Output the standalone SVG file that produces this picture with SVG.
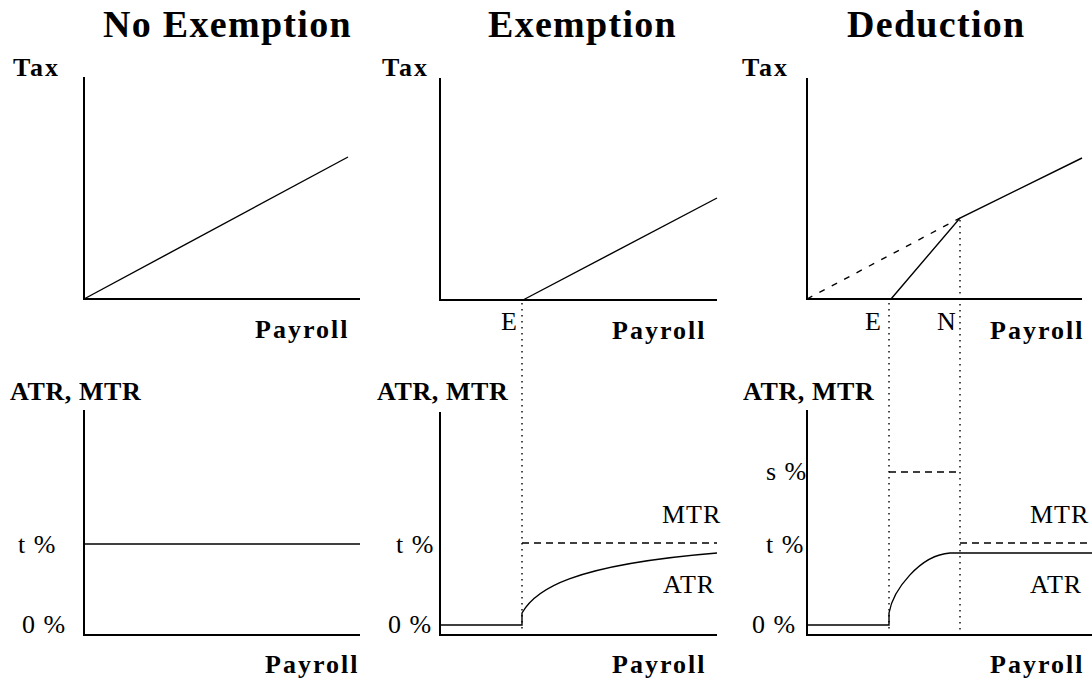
<svg xmlns="http://www.w3.org/2000/svg" width="1092" height="681" viewBox="0 0 1092 681">
<style>
.title{font-family:"Liberation Serif","Times New Roman",serif;font-weight:bold;font-size:38px;letter-spacing:1.3px;fill:#000}
.lab{font-family:"Liberation Serif","Times New Roman",serif;font-weight:bold;font-size:26px;letter-spacing:2px;fill:#000}
.lab2{font-family:"Liberation Serif","Times New Roman",serif;font-weight:bold;font-size:26px;letter-spacing:0.6px;fill:#000}
.reg{font-family:"Liberation Serif","Times New Roman",serif;font-size:26px;letter-spacing:1px;fill:#000}
.axis{stroke:#000;stroke-width:2;fill:none}
.line{stroke:#000;stroke-width:1.4;fill:none}
.dash{stroke:#000;stroke-width:1.4;fill:none;stroke-dasharray:7 5}
.dash2{stroke:#000;stroke-width:1.4;fill:none;stroke-dasharray:6 8}
.dot{stroke:#000;stroke-width:1.4;fill:none;stroke-dasharray:1.5 4.5}
</style>
<rect width="1092" height="681" fill="#fff"/>
<g id="titles">
<text class="title" x="103" y="37">No Exemption</text>
<text class="title" x="488" y="37">Exemption</text>
<text class="title" x="847" y="37">Deduction</text>
</g>
<g id="panel-no-exemption-tax">
<text class="lab" x="13" y="76">Tax</text>
<path class="axis" d="M84,77 V299 H360"/>
<path class="line" d="M84,299 L348,157"/>
<text class="lab" x="255" y="338">Payroll</text>
</g>
<g id="panel-exemption-tax">
<text class="lab" x="382" y="76">Tax</text>
<path class="axis" d="M440,78 V300 H717"/>
<path class="line" d="M523,300 L717,198"/>
<text class="reg" x="501" y="330">E</text>
<text class="lab" x="612" y="339">Payroll</text>
</g>
<g id="panel-deduction-tax">
<text class="lab" x="742" y="76">Tax</text>
<path class="axis" d="M807,78 V299 H1082"/>
<path class="dash2" d="M807,299 L960,218"/>
<path class="line" d="M891,299 L960,218 L1082,158"/>
<text class="reg" x="865" y="330">E</text>
<text class="reg" x="937" y="330">N</text>
<text class="lab" x="990" y="339">Payroll</text>
</g>
<g id="panel-no-exemption-rate">
<text class="lab2" x="10" y="400">ATR, MTR</text>
<path class="axis" d="M84,410 V635 H360"/>
<path class="line" d="M84,544 H360"/>
<text class="reg" x="18" y="553">t %</text>
<text class="reg" x="22" y="633">0 %</text>
<text class="lab" x="265" y="673">Payroll</text>
</g>
<g id="panel-exemption-rate">
<text class="lab2" x="377" y="400">ATR, MTR</text>
<path class="axis" d="M440,412 V635 H717"/>
<path class="line" d="M440,625 H522 V613 C535,590 570,565 717,553"/>
<path class="dash" d="M522,543 H717"/>
<text class="reg" x="396" y="553">t %</text>
<text class="reg" x="388" y="633">0 %</text>
<text class="reg" x="662" y="523">MTR</text>
<text class="reg" x="663" y="593">ATR</text>
<text class="lab" x="612" y="673">Payroll</text>
</g>
<g id="panel-deduction-rate">
<text class="lab2" x="743" y="400">ATR, MTR</text>
<path class="axis" d="M807,410 V635 H1092"/>
<path class="line" d="M807,625 H889 V613 C893,590 920,555 950,553 H1092"/>
<path class="dash" d="M889,472 H960"/>
<path class="dash" d="M960,543 H1092"/>
<text class="reg" x="766" y="480">s %</text>
<text class="reg" x="766" y="553">t %</text>
<text class="reg" x="752" y="633">0 %</text>
<text class="reg" x="1030" y="523">MTR</text>
<text class="reg" x="1030" y="593">ATR</text>
<text class="lab" x="990" y="673">Payroll</text>
</g>
<g id="connectors">
<path class="dot" d="M522,303 V632"/>
<path class="dot" d="M889,303 V632"/>
<path class="dot" d="M960,220 V632"/>
</g>
</svg>
